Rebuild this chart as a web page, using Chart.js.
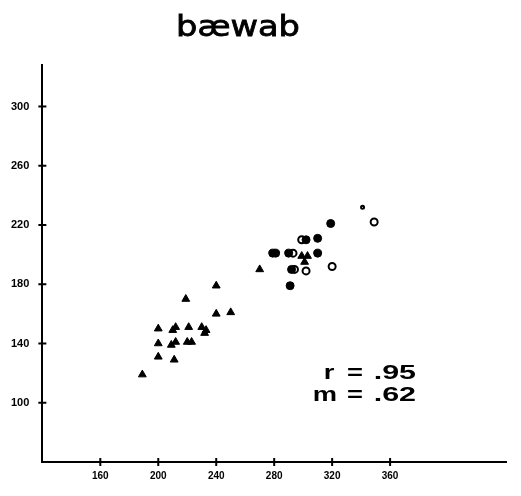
<!DOCTYPE html>
<html lang="en">
<head>
<meta charset="UTF-8">
<title>baewab</title>
<script src="https://cdn.jsdelivr.net/npm/chart.js"></script>
<style>
  body { margin: 0; background: #fff; }
  #wrap { width: 521px; height: 496px; }
</style>
</head>
<body>
<div id="wrap"><canvas id="chart" width="521" height="496"></canvas></div>
<script>
// values
const triX = [219, 200, 210, 212, 221, 230, 233, 232, 200, 209, 212, 220, 223, 200, 211, 189, 240, 240, 250, 270, 299, 303, 301];
const triY = [170, 150, 149, 151, 151, 151, 149, 147, 140, 139, 141, 141, 141, 131, 129, 119, 179, 160, 161, 190, 199, 199, 195];
const dotX = [279, 281, 290, 310, 302, 310, 292, 291, 319];
const dotY = [201, 201, 201, 201, 210, 211, 190, 179, 221];
const openX = [293, 299, 294, 302, 320, 349, 341];
const openY = [201, 210, 190, 189, 192, 222, 232];
const xTicks = [160, 200, 240, 280, 320, 360];
const yTicks = [100, 140, 180, 220, 260, 300];
const titleText = 'bæwab';
const statLines = [['r', '=', '.95'], ['m', '=', '.62']];

function pts(xs, ys) {
  return xs.map((x, i) => ({ x: x, y: ys[i] }));
}

const yFont = { family: 'Liberation Sans', weight: 'bold', size: 11 };
const xFont = { family: 'Liberation Sans', weight: 'bold', size: 10 };

// draws text stretched sideways like the old lettering
function wideText(ctx, txt, x, y, sx, align) {
  ctx.save();
  ctx.translate(x, y);
  ctx.scale(sx, 1);
  ctx.textAlign = align;
  ctx.fillText(txt, 0, 0);
  ctx.restore();
}

// title, stats and little crossed tick marks
const decor = {
  id: 'decor',
  afterDraw(chart) {
    const ctx = chart.ctx;
    const xs = chart.scales.x, ys = chart.scales.y;
    ctx.save();
    ctx.strokeStyle = '#000';
    ctx.lineWidth = 2;
    xTicks.forEach(v => {
      const px = xs.getPixelForValue(v);
      ctx.beginPath();
      ctx.moveTo(px, ys.bottom - 4);
      ctx.lineTo(px, ys.bottom + 4);
      ctx.stroke();
    });
    yTicks.forEach(v => {
      const py = ys.getPixelForValue(v);
      ctx.beginPath();
      ctx.moveTo(xs.left - 4, py);
      ctx.lineTo(xs.left + 4, py);
      ctx.stroke();
    });

    ctx.fillStyle = '#000';
    ctx.textBaseline = 'alphabetic';
    ctx.font = '29px "DejaVu Sans"';
    ctx.lineWidth = 0.8;
    ctx.save();
    ctx.translate(238, 36);
    ctx.scale(1.16, 1);
    ctx.textAlign = 'center';
    ctx.fillText(titleText, 0, 0);
    ctx.strokeText(titleText, 0, 0);
    ctx.restore();

    ctx.font = 'bold 21px "Liberation Sans"';
    statLines.forEach((parts, i) => {
      const y = 379 + i * 22;
      wideText(ctx, parts[0], i === 0 ? 329 : 325, y, 1.3, 'center');
      wideText(ctx, parts[1], 355, y, 1.3, 'center');
      wideText(ctx, parts[2], 416, y, 1.45, 'right');
    });
    ctx.restore();
  }
};

new Chart(document.getElementById('chart'), {
  type: 'scatter',
  data: {
    datasets: [
      {
        data: pts(triX, triY),
        pointStyle: 'triangle',
        pointRadius: 4.5,
        backgroundColor: '#000',
        borderColor: '#000',
        borderWidth: 1
      },
      {
        data: pts(dotX, dotY),
        pointStyle: 'circle',
        pointRadius: 4,
        backgroundColor: '#000',
        borderColor: '#000',
        borderWidth: 1
      },
      {
        data: pts(openX, openY),
        pointStyle: 'circle',
        pointRadius: openX.map((v, i) => i === openX.length - 1 ? 1.5 : 3.5),
        backgroundColor: '#fff',
        borderColor: '#000',
        borderWidth: 2
      }
    ]
  },
  options: {
    responsive: false,
    animation: false,
    layout: { padding: { left: 6, right: 15, top: 65, bottom: 14 } },
    plugins: {
      legend: { display: false },
      tooltip: { enabled: false },
      title: { display: false }
    },
    scales: {
      x: {
        type: 'linear',
        min: 120,
        max: 440,
        afterBuildTicks: s => { s.ticks = xTicks.map(v => ({ value: v })); },
        border: { color: '#000', width: 2 },
        grid: { display: false },
        ticks: { color: '#000', font: xFont, padding: 0, maxRotation: 0 }
      },
      y: {
        type: 'linear',
        min: 60,
        max: 328,
        afterBuildTicks: s => { s.ticks = yTicks.map(v => ({ value: v })); },
        border: { color: '#000', width: 2 },
        grid: { display: false },
        ticks: { color: '#000', font: yFont, padding: 5 }
      }
    }
  },
  plugins: [decor]
});
</script>
</body>
</html>
